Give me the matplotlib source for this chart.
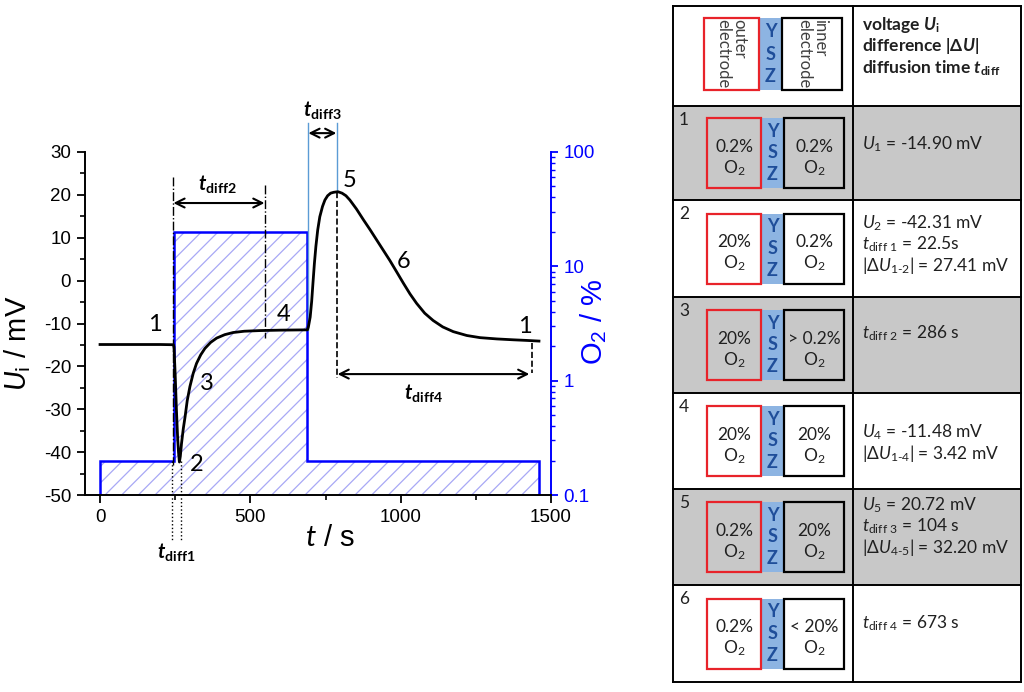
import matplotlib
matplotlib.use("Agg")
import matplotlib.pyplot as plt
from matplotlib import ticker
from matplotlib.patches import Rectangle

plt.rcParams['font.family'] = ['Liberation Sans', 'DejaVu Sans']
plt.rcParams['axes.unicode_minus'] = False
plt.rcParams['mathtext.fontset'] = 'custom'
plt.rcParams['mathtext.rm'] = 'Lato'
plt.rcParams['mathtext.it'] = 'Lato:italic'
plt.rcParams['mathtext.bf'] = 'Lato:bold'
try:
    plt.rcParams['mathtext.bfit'] = 'Lato:italic:bold'
except KeyError:
    pass
plt.rcParams['hatch.linewidth'] = 0.9

# ---------------- data ----------------
# cell voltage U_i (mV) vs time t (s)
t_u = [0, 50, 100, 150, 200, 244, 246, 250, 254, 258, 261, 264, 267, 271, 277,
       283, 290, 299, 310, 321, 335, 349, 368, 388, 415, 443, 480, 532, 600,
       690, 693, 699, 704, 708, 713, 718, 724, 731, 740, 748, 757, 767, 777,
       787, 792, 805, 818, 831, 853, 876, 898, 920, 942, 964, 987, 1009, 1031,
       1053, 1080, 1108, 1140, 1175, 1220, 1264, 1320, 1374, 1420, 1460]
u_i = [-14.9, -14.9, -14.9, -14.9, -14.9, -14.95, -15.5, -22.0, -30.0, -36.5,
       -40.0, -42.31, -41.0, -38.0, -34.5, -31.7, -28.0, -24.7, -21.6, -19.3,
       -17.3, -15.8, -14.4, -13.4, -12.6, -12.1, -11.8, -11.65, -11.55, -11.48,
       -10.8, -8.5, -4.8, -0.8, 4.0, 8.0, 11.8, 14.9, 17.3, 18.8, 19.8, 20.4,
       20.6, 20.7, 20.72, 20.4, 19.8, 18.8, 16.7, 14.2, 11.9, 9.5, 7.1, 4.7,
       2.0, -0.6, -3.1, -5.3, -7.6, -9.3, -10.8, -11.9, -12.8, -13.3, -13.6,
       -13.8, -13.95, -14.1]

# O2 concentration at the outer electrode (%), step profile
o2_edges = [0, 247, 690, 1460]
o2_levels = [0.2, 20, 0.2]

# stage labels (text, t, U)
stage_labels = ['1', '2', '3', '4', '5', '6', '1']
stage_t = [183, 320, 355, 610, 829, 1011, 1413]
stage_u = [-10.3, -43.0, -24.0, -8.0, 23.3, 4.4, -10.7]

# table content
row_nums = ['1', '2', '3', '4', '5', '6']
outer_o2 = ['0.2%', '20%', '20%', '20%', '0.2%', '0.2%']
inner_o2 = ['0.2%', '0.2%', '> 0.2%', '20%', '20%', '< 20%']
row_texts = [
    [r'$U_1$ = -14.90 mV'],
    [r'$U_2$ = -42.31 mV', r'$t_{\rm diff\ 1}$ = 22.5s', r'|$\Delta U_{1\text{-}2}$| = 27.41 mV'],
    [r'$t_{\rm diff\ 2}$ = 286 s'],
    [r'$U_4$ = -11.48 mV', r'|$\Delta U_{1\text{-}4}$| = 3.42 mV'],
    [r'$U_5$ = 20.72 mV', r'$t_{\rm diff\ 3}$ = 104 s', r'|$\Delta U_{4\text{-}5}$| = 32.20 mV'],
    [r'$t_{\rm diff\ 4}$ = 673 s'],
]
header_texts = [r'voltage $\mathbfit{U}_{\mathbf{i}}$',
                r'difference |$\mathbf{\Delta}\mathbfit{U}$|',
                r'diffusion time $\mathbfit{t}_{\mathbf{diff}}$']

# ---------------- figure ----------------
fig = plt.figure(figsize=(10.24, 6.92), dpi=100)

# table drawn in pixel coordinates on a full-figure overlay
tax = fig.add_axes([0, 0, 1, 1])
tax.set_xlim(0, 1024)
tax.set_ylim(692, 0)
tax.axis('off')

col_x = [673, 853, 1021]
row_y = [6, 106, 200, 297, 393, 489, 585, 682]
grey = '#c8c8c8'
ysz_col = '#8db4e2'
ysz_txt = '#1f4e9a'
red = '#e8232a'
tfont = 'Lato'
tsize = 12.5

for i in range(1, len(row_y) - 1):
    if i % 2 == 1:
        tax.add_patch(Rectangle((col_x[0], row_y[i]), col_x[2] - col_x[0],
                                row_y[i + 1] - row_y[i], facecolor=grey,
                                edgecolor='none', zorder=0))
for y in row_y:
    tax.plot([col_x[0], col_x[2]], [y, y], color='black', lw=1.4, zorder=3)
for x in col_x:
    tax.plot([x, x], [row_y[0], row_y[-1]], color='black', lw=1.4, zorder=3)


def draw_cell(top, h, rx0, rx1, bx0, bx1, left_txt, right_txt, rot=False):
    tax.add_patch(Rectangle((rx0, top), rx1 - rx0, h, facecolor='none',
                            edgecolor=red, lw=1.6, zorder=2))
    tax.add_patch(Rectangle((rx1, top), bx0 - rx1, h, facecolor=ysz_col,
                            edgecolor='none', zorder=1))
    tax.add_patch(Rectangle((bx0, top), bx1 - bx0, h, facecolor='none',
                            edgecolor='black', lw=1.6, zorder=2))
    for k, ch in enumerate('YSZ'):
        tax.text((rx1 + bx0) / 2, top + h * (0.19 + 0.31 * k), ch, color=ysz_txt,
                 fontsize=13, fontweight='bold', family=tfont,
                 ha='center', va='center')
    if rot:
        for x0, x1, s in [(rx0, rx1, left_txt), (bx0, bx1, right_txt)]:
            tax.text((x0 + x1) / 2, top + h / 2, s, rotation=-90, ha='center',
                     va='center', fontsize=12, family=tfont, color='#404040',
                     linespacing=1.0, multialignment='left')
    else:
        for x0, x1, s in [(rx0, rx1, left_txt), (bx0, bx1, right_txt)]:
            tax.text((x0 + x1) / 2, top + h * 0.41, s, ha='center', va='center',
                     fontsize=tsize, family=tfont, color='#202020')
            tax.text((x0 + x1) / 2, top + h * 0.71, r'O$_2$', ha='center',
                     va='center', fontsize=tsize, family=tfont, color='#202020')


# header
draw_cell(18, 72, 704, 759, 782, 842, 'outer\nelectrode', 'inner\nelectrode', rot=True)
for k, s in enumerate(header_texts):
    tax.text(862, 25 + 21.5 * k, s, ha='left', va='center', fontsize=tsize,
             fontweight='bold', family=tfont, color='#202020')

first_line = [38, 23, 36, 39, 16, 38]
for i in range(6):
    top = row_y[i + 1]
    hrow = row_y[i + 2] - top
    box_h = 70
    btop = top + (hrow - box_h) / 2
    draw_cell(btop, box_h, 707, 761, 784, 844, outer_o2[i], inner_o2[i])
    tax.text(679, top + 14, row_nums[i], ha='left', va='center', fontsize=tsize,
             family=tfont, color='#202020')
    for k, s in enumerate(row_texts[i]):
        tax.text(862, top + first_line[i] + 21 * k, s, ha='left', va='center',
                 fontsize=tsize, family=tfont, color='#202020')

# ---------------- chart ----------------
W, H = 1024, 692
ax = fig.add_axes([85 / W, 1 - 495 / H, (551 - 85) / W, (495 - 152) / H])
ax2 = ax.twinx()
ax.set_zorder(ax2.get_zorder() + 1)
ax.patch.set_visible(False)

blue = '#0000ff'
ax2.set_yscale('log')
ax2.set_ylim(0.1, 100)
ax2.stairs(o2_levels, o2_edges, baseline=0.1, fill=True, hatch='//',
           facecolor='none', edgecolor='#a8a8f5', linewidth=0)
ax2.stairs(o2_levels, o2_edges, baseline=0.1, color=blue, lw=1.8)

ax.plot(t_u, u_i, color='black', lw=2.0, solid_joinstyle='round', zorder=5)
ax.set_xlim(-50, 1500)
ax.set_ylim(-50, 30)

for a in (ax, ax2):
    a.spines['top'].set_visible(False)
ax.spines['right'].set_visible(False)
ax2.spines['left'].set_visible(False)
ax2.spines['bottom'].set_visible(False)
ax2.spines['right'].set_color(blue)
ax2.spines['right'].set_linewidth(1.4)
ax.spines['left'].set_linewidth(1.4)
ax.spines['bottom'].set_linewidth(1.4)

ax.xaxis.set_major_locator(ticker.MultipleLocator(500))
ax.xaxis.set_minor_locator(ticker.MultipleLocator(250))
ax.yaxis.set_major_locator(ticker.MultipleLocator(10))
ax.yaxis.set_minor_locator(ticker.MultipleLocator(5))
ax.tick_params(which='major', direction='out', length=6, width=1.3, labelsize=13.5, pad=4)
ax.tick_params(which='minor', direction='out', length=3.5, width=1.2)
ax2.yaxis.set_major_formatter(ticker.FuncFormatter(lambda v, p: f'{v:g}'))
ax2.yaxis.set_minor_locator(ticker.LogLocator(base=10, subs=range(2, 10)))
ax2.yaxis.set_minor_formatter(ticker.NullFormatter())
ax2.tick_params(which='major', direction='out', length=5, width=1.3, colors=blue,
                labelsize=13.5, pad=4)
ax2.tick_params(which='minor', direction='out', length=3, width=1.0, colors=blue)

ax.set_ylabel(r'$U_{\rm i}$ / mV', fontsize=21)
ax.yaxis.set_label_coords(-0.112, 0.443)
ax.set_xlabel(r'$t$ / s', fontsize=21)
ax.xaxis.set_label_coords(0.526, -0.085)
ax2.set_ylabel(r'O$_2$ / %', fontsize=21, color=blue)
ax2.yaxis.set_label_coords(1.06, 0.504)

for s, tt, uu in zip(stage_labels, stage_t, stage_u):
    ax.text(tt, uu, s, fontsize=17, family='Lato', ha='center', va='center', zorder=6)

arrow_kw = dict(arrowstyle='<->', lw=1.5, color='black', mutation_scale=16,
                shrinkA=0, shrinkB=0)

# t_diff1
for tx in (239, 270):
    ax.plot([tx, tx], [-42, -60.5], ls=':', color='black', lw=1.0, clip_on=False)
ax.text(253, -63.3, r'$\mathbfit{t}_{\mathbf{diff1}}$', fontsize=14.5, ha='center',
        va='center')

# t_diff2
ax.plot([242, 242], [24.2, -43], ls='-.', color='black', lw=1.0)
ax.plot([549, 549], [22.3, -13.4], ls='-.', color='black', lw=1.0)
ax.annotate('', xy=(244, 18.1), xytext=(547, 18.1), arrowprops=arrow_kw)
ax.text(389, 22.6, r'$\mathbfit{t}_{\mathbf{diff2}}$', fontsize=14.5, ha='center',
        va='center')

# t_diff3
ax.plot([691, 691], [36.8, -11.5], color='#5b9bd5', lw=1.0, clip_on=False)
ax.plot([788, 788], [36.8, 20.7], color='#5b9bd5', lw=1.0, clip_on=False)
ax.annotate('', xy=(693, 34.4), xytext=(786, 34.4), arrowprops=arrow_kw,
            annotation_clip=False)
ax.text(738, 39.8, r'$\mathbfit{t}_{\mathbf{diff3}}$', fontsize=14.5, ha='center',
        va='center')

# t_diff4
ax.plot([788, 788], [20.7, -22.7], ls='--', color='black', lw=1.2)
ax.plot([1436, 1436], [-14.5, -21.5], ls='--', color='black', lw=1.2)
ax.annotate('', xy=(790, -21.8), xytext=(1428, -21.8), arrowprops=arrow_kw)
ax.text(1075, -26.3, r'$\mathbfit{t}_{\mathbf{diff4}}$', fontsize=14.5, ha='center',
        va='center')

fig.savefig('out.png', dpi=100)
